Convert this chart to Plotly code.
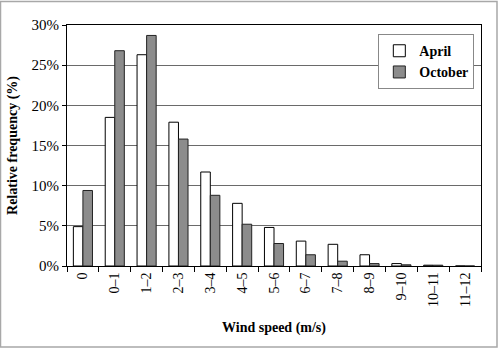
import plotly.graph_objects as go

categories = ["0", "0–1", "1–2", "2–3", "3–4", "4–5", "5–6", "6–7", "7–8", "8–9", "9–10", "10–11", "11–12"]
april = [4.9, 18.5, 26.3, 17.9, 11.7, 7.8, 4.8, 3.1, 2.7, 1.4, 0.3, 0.1, 0.0]
october = [9.4, 26.8, 28.7, 15.8, 8.8, 5.2, 2.8, 1.4, 0.6, 0.3, 0.15, 0.1, 0.0]
y_ticks = [0, 5, 10, 15, 20, 25, 30]
y_tick_labels = [f"{v}%" for v in y_ticks]

font_family = "Liberation Serif"

fig = go.Figure()
fig.add_trace(go.Bar(x=categories, y=april, name="April",
                     marker=dict(color="white", line=dict(color="black", width=1))))
fig.add_trace(go.Bar(x=categories, y=october, name="October",
                     marker=dict(color="#8c8c8c", line=dict(color="#222222", width=1))))

fig.update_layout(
    width=500, height=348,
    margin=dict(l=67, r=19, t=25, b=82),
    paper_bgcolor="white", plot_bgcolor="white",
    barmode="group", bargap=0.4, bargroupgap=0,
    font=dict(family=font_family, color="black", size=13),
    showlegend=True,
    legend=dict(x=0.752, y=0.962, xanchor="left", yanchor="top",
                bgcolor="white", bordercolor="#888888", borderwidth=1,
                font=dict(family=font_family, size=14, color="black", weight="bold"),
                tracegroupgap=0, itemwidth=30),
    xaxis=dict(
        type="category", tickangle=-90, tickson="boundaries",
        ticks="outside", ticklen=5, tickcolor="black",
        showline=True, linecolor="black", linewidth=1, mirror=True,
        showgrid=False,
        tickfont=dict(family=font_family, size=14),
        title=dict(text="Wind speed (m/s)", standoff=16,
                   font=dict(family=font_family, size=14, weight="bold")),
    ),
    yaxis=dict(
        range=[0, 30], tickvals=y_ticks, ticktext=y_tick_labels,
        ticks="outside", ticklen=4, tickcolor="black",
        showline=True, linecolor="black", linewidth=1, mirror=True,
        showgrid=True, gridcolor="#6a6a6a", gridwidth=1,
        zeroline=False,
        tickfont=dict(family=font_family, size=15),
        title=dict(text="Relative frequency (%)", standoff=10,
                   font=dict(family=font_family, size=14, weight="bold")),
    ),
)

# outer frame around the whole chart
fig.add_shape(type="rect", xref="paper", yref="paper",
              x0=(0.5 - 67) / 414, x1=(497 - 67) / 414,
              y0=(266 - 347) / 241, y1=(266 - 1.5) / 241,
              line=dict(color="#a8a8a8", width=1.5), fillcolor="rgba(0,0,0,0)",
              layer="below")

fig.write_html("out.html")
